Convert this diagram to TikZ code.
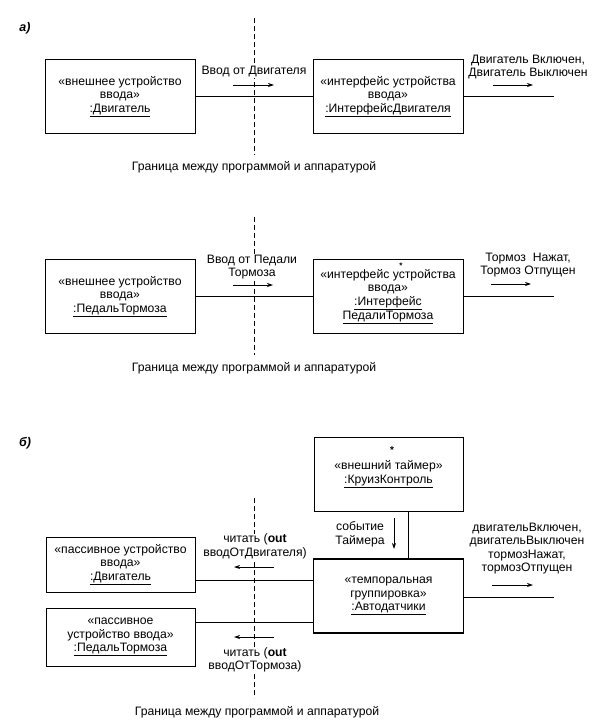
\documentclass[tikz,border=0pt]{standalone}
\usepackage{fontspec}
\setmainfont{Liberation Sans}
\usetikzlibrary{arrows.meta}
\newcommand\txtfont{\fontsize{12.2}{13.6}\selectfont}
\begin{document}
\begin{tikzpicture}[x=1pt,y=-1pt,
  obj/.style={draw, line width=1pt, minimum width=150pt, minimum height=74pt, align=center, inner sep=0pt, font=\txtfont},
  lbl/.style={align=center, inner sep=0.5pt, fill=white, font=\txtfont},
  star/.style={inner sep=0pt, font=\fontsize{10}{10}\selectfont\bfseries},
  wire/.style={line width=0.8pt},
  msg/.style={line width=0.8pt, -{Stealth[length=6pt,width=4pt]}},
  bound/.style={line width=0.8pt, dash pattern=on 5pt off 3pt},
  part/.style={inner sep=0pt, font=\fontsize{12.5}{14}\selectfont\bfseries\itshape}]
\useasboundingbox (0,0) rectangle (612,725);
% ---------- a) part 1
\node[part] (la) at (25,28) {а)};
\coordinate (d1t) at (254,18); \coordinate (d1b) at (254,155);
\draw[bound] (d1t) -- (d1b);
\node[obj] (e1) at (120,96.5) {«внешнее устройство\\ввода»\\\underline{:Двигатель}};
\node[obj] (i1) at (388,96.5) {«интерфейс устройства\\ввода»\\\underline{:ИнтерфейсДвигателя}};
\coordinate (r1) at (554,96.5);
\draw[wire] (e1) -- (i1);
\draw[wire] (i1) -- (r1);
\node[lbl] (m1) at (254,72) {Ввод от Двигателя};
\coordinate (m1s) at (233,85); \coordinate (m1e) at (274,85);
\draw[msg] (m1s) -- (m1e);
\node[lbl] (o1) at (528,67) {Двигатель Включен,\\Двигатель Выключен};
\coordinate (o1s) at (493,85); \coordinate (o1e) at (533,85);
\draw[msg] (o1s) -- (o1e);
\node[lbl] (g1) at (254,167) {Граница между программой и аппаратурой};
% ---------- a) part 2
\coordinate (d2t) at (254,217); \coordinate (d2b) at (254,355);
\draw[bound] (d2t) -- (d2b);
\node[obj] (e2) at (120,296.5) {«внешнее устройство\\ввода»\\\underline{:ПедальТормоза}};
\node[obj] (i2) at (388,296.5) {«интерфейс устройства\\ввода»\\\underline{:Интерфейс}\\\underline{ПедалиТормоза}};
\node[star, font=\fontsize{8}{8}\selectfont\bfseries] (s2) at (401,265.5) {*};
\coordinate (r2) at (554,296.5);
\draw[wire] (e2) -- (i2);
\draw[wire] (i2) -- (r2);
\node[lbl] (m2) at (252,267) {Ввод от Педали\\Тормоза};
\coordinate (m2s) at (233,285); \coordinate (m2e) at (273,285);
\draw[msg] (m2s) -- (m2e);
\node[lbl] (o2) at (528,265) {Тормоз\ \ Нажат,\\Тормоз Отпущен};
\coordinate (o2s) at (491,284); \coordinate (o2e) at (531,284);
\draw[msg] (o2s) -- (o2e);
\node[lbl] (g2) at (254,368) {Граница между программой и аппаратурой};
% ---------- b)
\node[part] (lb) at (25,443) {б)};
\coordinate (d3t) at (254,498); \coordinate (d3b) at (254,698);
\draw[bound] (d3t) -- (d3b);
\node[obj, minimum width=149pt] (tm) at (388.5,474) {«внешний таймер»\\\underline{:КруизКонтроль}};
\node[star] (s3) at (392,450) {*};
\node[obj, line width=1.8pt, minimum width=150pt] (tg) at (388.5,596) {«темпоральная\\группировка»\\\underline{:Автодатчики}};
\node[obj, minimum width=149pt, minimum height=55pt] (p1) at (120.5,564.5) {«пассивное устройство\\ввода»\\\underline{:Двигатель}};
\node[obj, minimum width=149pt, minimum height=58pt] (p2) at (120.5,637) {«пассивное\\устройство ввода»\\\underline{:ПедальТормоза}};
\draw[wire] (tm.south -| 408,0) -- (tg.north -| 408,0);
\draw[wire] ([yshift=-15.5pt]p1.east) -- ([yshift=-15.5pt]p1.east -| tg.west);
\draw[wire] ([yshift=15pt]p2.east) -- ([yshift=15pt]p2.east -| tg.west);
\coordinate (r3) at (554,597);
\draw[wire] (tg.east |- r3) -- (r3);
\node[lbl] (ev) at (360,534.5) {событие\\Таймера};
\coordinate (evs) at (394,518); \coordinate (eve) at (394,549);
\draw[msg] (evs) -- (eve);
\node[lbl] (o3) at (527,548.5) {двигательВключен,\\двигательВыключен\\тормозНажат,\\тормозОтпущен};
\coordinate (o3s) at (492,585); \coordinate (o3e) at (533,585);
\draw[msg] (o3s) -- (o3e);
\node[lbl] (rd1) at (255,546.5) {читать (\textbf{out}\\вводОтДвигателя)};
\coordinate (rd1s) at (274,567); \coordinate (rd1e) at (234,567);
\draw[msg] (rd1s) -- (rd1e);
\node[lbl] (rd2) at (255,660) {читать (\textbf{out}\\вводОтТормоза)};
\coordinate (rd2s) at (274,637); \coordinate (rd2e) at (234,637);
\draw[msg] (rd2s) -- (rd2e);
\node[lbl] (g3) at (257,712) {Граница между программой и аппаратурой};
\end{tikzpicture}
\end{document}
